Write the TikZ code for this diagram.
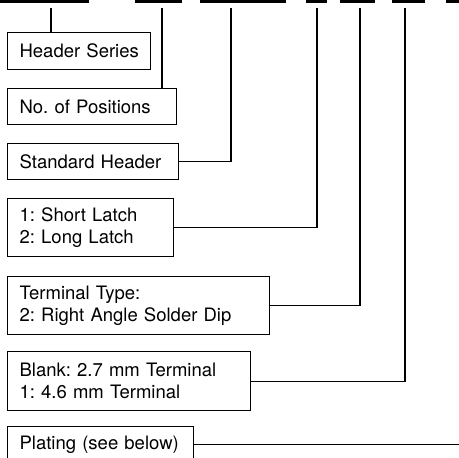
\documentclass[tikz,border=0pt]{standalone}
\usepackage{fontspec}
\setmainfont{TeX Gyre Heros}
\usetikzlibrary{positioning}

\newcommand\optfont{\fontsize{18.5}{22}\selectfont\frenchspacing\hyphenpenalty=10000\relax}

\tikzset{
  optbox/.style={draw, line width=1.2pt, anchor=north west, align=left,
    inner xsep=12pt, inner ysep=0pt, font=\optfont},
  field/.style={line width=3pt},
  lead/.style={line width=1.2pt}
}

\begin{document}
\begin{tikzpicture}[x=1pt, y=-1pt]
    \useasboundingbox (0,0) rectangle (459,458);

    % Draw part number fields
    \draw[field] (0,1.5) -- (89,1.5);
    \draw[field] (135,1.5) -- (182,1.5);
    \draw[field] (200,1.5) -- (286,1.5);
    \draw[field] (306,1.5) -- (327,1.5);
    \draw[field] (340,1.5) -- (375,1.5);
    \draw[field] (392,1.5) -- (425,1.5);
    \draw[field] (446,1.5) -- (462,1.5);

    % Field taps
    \coordinate (f1) at (51,8);
    \coordinate (f2) at (162,8);
    \coordinate (f3) at (231,8);
    \coordinate (f4) at (317,8);
    \coordinate (f5) at (360,8);
    \coordinate (f6) at (405,8);
    \coordinate (f7) at (460,8);

    % Draw option boxes
    \node[optbox, text width=119pt, minimum height=37pt] (series) at (7,32) {Header~Series};
    \node[optbox, text width=145pt, minimum height=36pt] (positions) at (7,88) {No.~of~Positions};
    \node[optbox, text width=147pt, minimum height=36pt] (style) at (7,143) {Standard~Header};
    \node[optbox, text width=142pt, minimum height=58pt] (latch) at (7,198) {1: Short Latch\\2: Long Latch};
    \node[optbox, text width=238pt, minimum height=58pt] (terminal) at (7,276) {Terminal Type:\\2: Right Angle Solder Dip};
    \node[optbox, text width=219pt, minimum height=59pt] (length) at (7,351) {Blank: 2.7 mm Terminal\\1: 4.6 mm Terminal};
    \node[optbox, text width=162pt, minimum height=36pt] (plating) at (7,426) {Plating (see below)};

    % Draw leaders
    \draw[lead] (f1) -- (f1 |- series.north);
    \draw[lead] (f2) -- (f2 |- positions.north);
    \draw[lead] (f3) |- (style.east);
    \draw[lead] (f4) |- (latch.east);
    \draw[lead] (f5) |- (terminal.east);
    \draw[lead] (f6) |- (length.east);
    \draw[lead] (plating.east) -- (plating.east -| f7);
\end{tikzpicture}
\end{document}
